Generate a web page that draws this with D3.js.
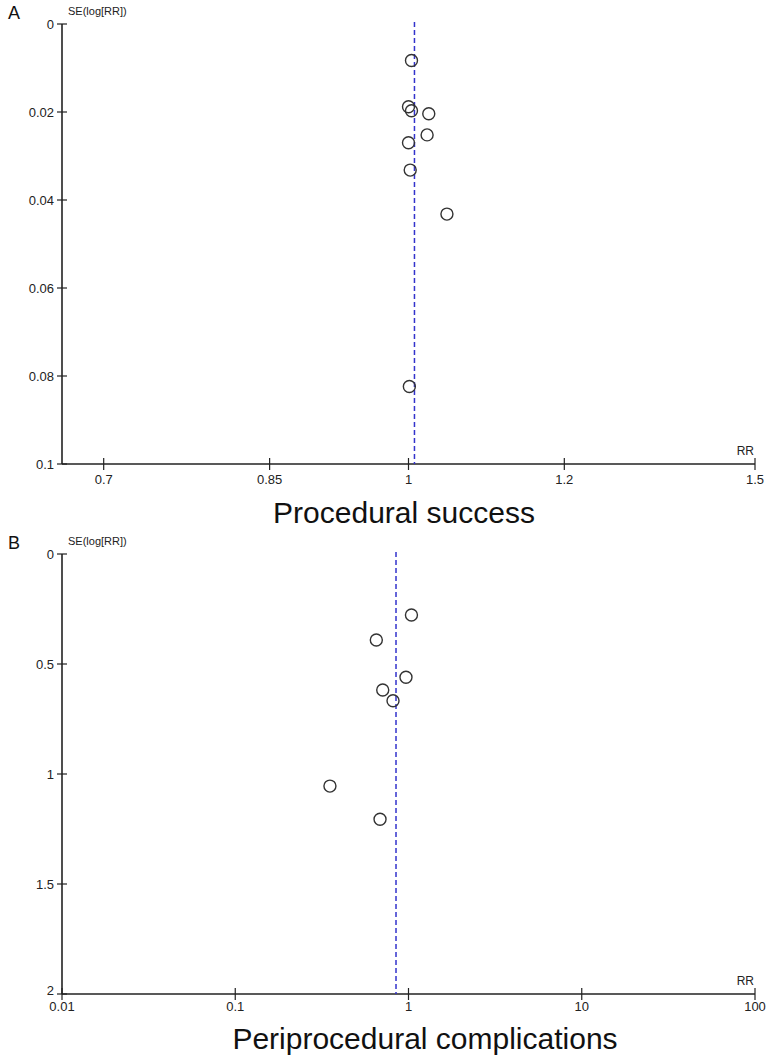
<!DOCTYPE html>
<html>
<head>
<meta charset="utf-8">
<script src="https://cdn.jsdelivr.net/npm/d3@7"></script>
<style>
    body { margin: 0; background: #fff; }
    svg { display: block; font-family: "Liberation Sans", Arial, sans-serif; }
</style>
</head>
<body>
<div id="chart"></div>
<script>
// Panel A - procedural success
var rrA = [1.0035, 1.0, 1.0035, 1.024, 1.022, 1.0, 1.002, 1.046, 1.001];
var seA = [0.0083, 0.0188, 0.0197, 0.0204, 0.0252, 0.027, 0.0332, 0.0432, 0.0824];
var pooledA = 1.007;
var xTicksA = [0.7, 0.85, 1, 1.2, 1.5];
var yTicksA = [0, 0.02, 0.04, 0.06, 0.08, 0.1];

// Panel B - periprocedural complications
var rrB = [1.04, 0.652, 0.967, 0.71, 0.814, 0.352, 0.685];
var seB = [0.277, 0.391, 0.56, 0.618, 0.667, 1.055, 1.206];
var pooledB = 0.847;
var xTicksB = [0.01, 0.1, 1, 10, 100];
var yTicksB = [0, 0.5, 1, 1.5, 2];

var svg = d3.select("#chart")
    .append("svg")
    .attr("width", 766)
    .attr("height", 1062);

FunnelPlot = function(_opts){
    this.opts = _opts;
    this.initVis();
};

FunnelPlot.prototype.initVis = function(){
    var vis = this;
    var o = vis.opts;

    vis.x = d3.scaleLog().domain(o.xDomain).range([62, 755]);
    vis.y = d3.scaleLinear().domain([0, o.yMax]).range([o.top, o.top + 440]);

    vis.g = svg.append("g");

    // y axis, ticks cross the line
    vis.g.append("line")
        .attr("x1", 62).attr("x2", 62)
        .attr("y1", vis.y(0)).attr("y2", vis.y(o.yMax))
        .attr("stroke", "#222").attr("stroke-width", 1.6);

    var yt = vis.g.selectAll(".ytick")
        .data(o.yTicks)
        .enter().append("g")
        .attr("class", "ytick")
        .attr("transform", d => "translate(62," + vis.y(d) + ")");
    yt.append("line")
        .attr("x1", -5).attr("x2", 5)
        .attr("stroke", "#222").attr("stroke-width", 1.2);
    yt.append("text")
        .attr("x", -8)
        .attr("y", (d, i) => i == o.yTicks.length - 1 ? o.lastYDy : 4.5)
        .attr("text-anchor", "end")
        .attr("font-size", "13px")
        .attr("fill", "#222")
        .text(d => d);

    // x axis
    var yBase = vis.y(o.yMax);
    vis.g.append("line")
        .attr("x1", 62).attr("x2", 755)
        .attr("y1", yBase).attr("y2", yBase)
        .attr("stroke", "#222").attr("stroke-width", 1.6);

    var xt = vis.g.selectAll(".xtick")
        .data(o.xTicks)
        .enter().append("g")
        .attr("class", "xtick")
        .attr("transform", d => "translate(" + vis.x(d) + "," + yBase + ")");
    xt.append("line")
        .attr("y1", -6).attr("y2", 6)
        .attr("stroke", "#222").attr("stroke-width", 1.2);
    xt.append("text")
        .attr("y", o.xLabelDy)
        .attr("text-anchor", "middle")
        .attr("font-size", "13px")
        .attr("fill", "#222")
        .text(d => d);

    // axis captions
    vis.g.append("text")
        .attr("x", 68).attr("y", o.top - 9)
        .attr("font-size", "11px")
        .attr("fill", "#222")
        .text("SE(log[RR])");
    vis.g.append("text")
        .attr("x", 754).attr("y", yBase - 9)
        .attr("text-anchor", "end")
        .attr("font-size", "12px")
        .attr("fill", "#222")
        .text("RR");
    vis.g.append("text")
        .attr("x", 8).attr("y", o.top - 5)
        .attr("font-size", "18px")
        .attr("fill", "#111")
        .text(o.letter);

    // pooled estimate
    vis.g.append("line")
        .attr("x1", vis.x(o.pooled)).attr("x2", vis.x(o.pooled))
        .attr("y1", o.top - 2).attr("y2", yBase)
        .attr("stroke", "#3333cc")
        .attr("stroke-width", 1.5)
        .attr("stroke-dasharray", "5,3");

    // studies
    vis.g.selectAll(".study")
        .data(o.rr)
        .enter().append("circle")
        .attr("class", "study")
        .attr("cx", d => vis.x(d))
        .attr("cy", (d, i) => vis.y(o.se[i]))
        .attr("r", 6)
        .attr("fill", "none")
        .attr("stroke", "#333")
        .attr("stroke-width", 1.4);

    vis.g.append("text")
        .attr("x", o.titleX).attr("y", o.titleY)
        .attr("text-anchor", "middle")
        .attr("font-size", "30px")
        .attr("fill", "#111")
        .text(o.title);
};

new FunnelPlot({
    letter: "A", top: 24, yMax: 0.1,
    xDomain: [1 / 1.5, 1.5],
    xTicks: xTicksA, yTicks: yTicksA,
    xLabelDy: 20, lastYDy: 4.5,
    rr: rrA, se: seA, pooled: pooledA,
    title: "Procedural success", titleX: 404, titleY: 523
});

new FunnelPlot({
    letter: "B", top: 554, yMax: 2,
    xDomain: [0.01, 100],
    xTicks: xTicksB, yTicks: yTicksB,
    xLabelDy: 17, lastYDy: 1,
    rr: rrB, se: seB, pooled: pooledB,
    title: "Periprocedural complications", titleX: 425, titleY: 1049
});
</script>
</body>
</html>
